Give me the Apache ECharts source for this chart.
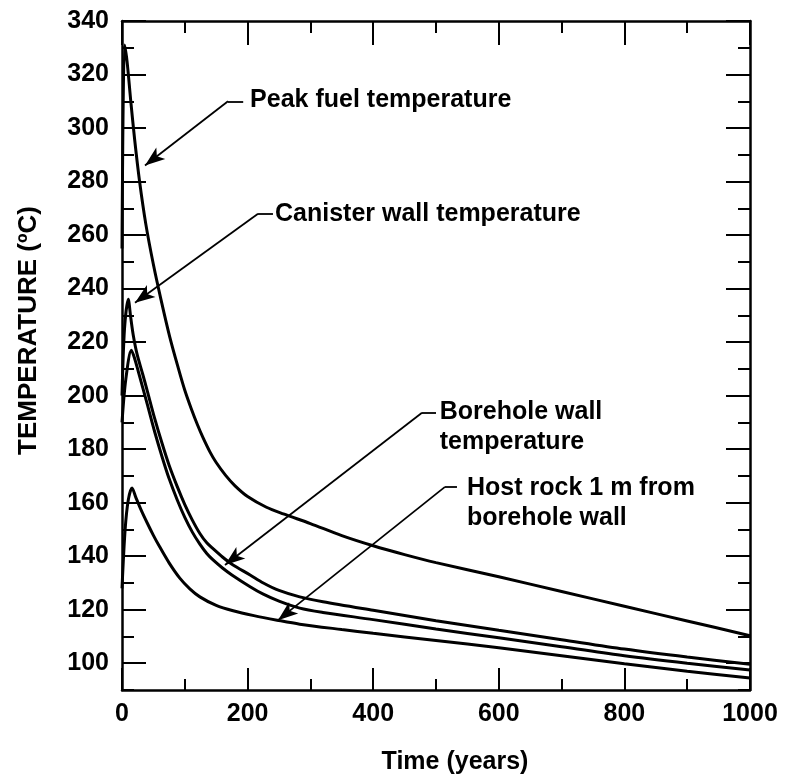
<!DOCTYPE html>
<html><head><meta charset="utf-8">
<script src="https://cdn.jsdelivr.net/npm/echarts@6/dist/echarts.min.js"></script>
<style>html,body{margin:0;padding:0;background:#fff}#c{width:785px;height:776px}</style>
</head><body><div id="c"></div>
<script>
// ---- data (time in years, temperature in °C) ----
const peakFuelT  = [0, 4, 8, 14, 20, 28, 38, 50, 62, 76, 90, 100, 110, 120, 129, 140, 150, 165, 180, 200, 230, 257, 300, 350, 400, 450, 500, 600, 700, 800, 900, 1000];
const peakFuelV  = [255, 331, 325, 310, 296, 280, 264, 249, 236, 222, 210, 202, 195.3, 189.2, 184.3, 179, 175, 170.2, 166.3, 162.3, 158.3, 155.8, 152.2, 147.7, 143.9, 140.6, 137.6, 132.3, 126.8, 121.3, 115.8, 110.3];
const canisterT  = [0, 4, 10, 14, 18, 24, 33, 40, 52, 64, 75, 88, 100, 112, 124, 135, 145, 160, 175, 204, 225, 250, 283, 320, 400, 500, 600, 700, 800, 900, 1000];
const canisterV  = [200, 225, 236, 229, 222.5, 215.5, 208, 202, 191.5, 182, 174, 166, 159.3, 153.5, 148.5, 145, 142.8, 139.7, 137, 133, 130, 127.2, 124.8, 123, 119.8, 115.9, 112.3, 108.8, 105.3, 102.3, 99.6];
const boreholeT  = [0, 6, 15, 20, 26, 33, 40, 52, 64, 75, 88, 100, 112, 124, 135, 145, 160, 175, 204, 225, 250, 283, 320, 400, 500, 600, 700, 800, 900, 1000];
const boreholeV  = [190, 206, 217, 214, 209, 203, 197, 186.5, 177, 169, 161, 154.5, 149, 144.5, 141, 138.6, 135.6, 133, 128.6, 125.8, 123.2, 120.6, 119, 116.3, 112.8, 109.5, 106.2, 102.8, 100, 97.5];
const hostRockT  = [0, 5, 10, 16, 22, 30, 40, 50, 60, 75, 92, 108, 124, 150, 177, 210, 247, 283, 350, 400, 500, 600, 700, 800, 900, 1000];
const hostRockV  = [128, 150, 161, 165.5, 162, 157.5, 152.5, 147.8, 143.5, 137.5, 131.8, 127.8, 124.8, 121.6, 119.6, 117.8, 116.1, 114.6, 112.6, 111.2, 108.5, 105.8, 102.8, 99.8, 97, 94.5];

const xTicks = [0, 200, 400, 600, 800, 1000];
const xMinorTicks = [100, 300, 500, 700, 900];
const yTicks = [100, 120, 140, 160, 180, 200, 220, 240, 260, 280, 300, 320, 340];
const yMinorTicks = [90, 110, 130, 150, 170, 190, 210, 230, 250, 270, 290, 310, 330];

// annotation texts and leader lines (data coordinates)
const noteTexts  = ['Peak fuel temperature', 'Canister wall temperature', 'Borehole wall\ntemperature', 'Host rock 1 m from\nborehole wall'];
const noteTextAt = [[204, 310.3], [243.6, 267.7], [506, 188.3], [549.4, 159.9]];
const noteElbow  = [[168.8, 310.0], [216.6, 268.0], [477.7, 193.6], [514.3, 165.9]];
const noteElbowEnd = [193, 240.4, 500, 533.4];
const noteTip    = [[36.6, 286.0], [20.7, 234.7], [164, 136.7], [248.4, 116.1]];

const FONT = '"Liberation Sans", Arial, Helvetica, sans-serif';
const zip = (a, b) => a.map((v, i) => [v, b[i]]);
const plain = v => String(v);

function xAxisDef(pos, ticks, len, labels, line) {
  return {
    type: 'value', position: pos, min: 0, max: 1000, gridIndex: 0,
    axisLine: { show: line, onZero: false, lineStyle: { color: '#000', width: 2.5 } },
    axisTick: { show: true, inside: true, length: len, customValues: ticks, lineStyle: { color: '#000', width: 2 } },
    axisLabel: labels ? { show: true, customValues: ticks, formatter: plain, margin: 12, color: '#000', fontSize: 25, fontWeight: 'bold', fontFamily: FONT } : { show: false },
    splitLine: { show: false }
  };
}
function yAxisDef(pos, ticks, len, labels, line) {
  return {
    type: 'value', position: pos, min: 90, max: 340, gridIndex: 0,
    axisLine: { show: line, onZero: false, lineStyle: { color: '#000', width: 2.5 } },
    axisTick: { show: true, inside: true, length: len, customValues: ticks, lineStyle: { color: '#000', width: 2 } },
    axisLabel: labels ? { show: true, customValues: ticks, formatter: plain, margin: 13, color: '#000', fontSize: 25, fontWeight: 'bold', fontFamily: FONT } : { show: false },
    splitLine: { show: false }
  };
}

const xAxes = [
  Object.assign(xAxisDef('bottom', xTicks, 22, true, true), {
    name: 'Time (years)', nameLocation: 'middle', nameGap: 60,
    nameTextStyle: { color: '#000', fontSize: 25, fontWeight: 'bold', fontFamily: FONT, padding: [0, 0, 0, 38] }
  }),
  xAxisDef('bottom', xMinorTicks, 11, false, false),
  xAxisDef('top', xTicks, 24, false, true),
  xAxisDef('top', xMinorTicks, 12, false, false)
];
const yAxes = [
  Object.assign(yAxisDef('left', yTicks, 24, true, true), {
    name: 'TEMPERATURE (ºC)', nameLocation: 'middle', nameGap: 80, nameRotate: 90,
    nameTextStyle: { color: '#000', fontSize: 26, fontWeight: 'bold', fontFamily: FONT, padding: [0, 0, 0, 50] }
  }),
  yAxisDef('left', yMinorTicks, 12, false, false),
  yAxisDef('right', yTicks, 24, false, true),
  yAxisDef('right', yMinorTicks, 12, false, false)
];

function curve(name, t, v) {
  return {
    name, type: 'line', xAxisIndex: 0, yAxisIndex: 0, data: zip(t, v),
    showSymbol: false, symbol: 'none', smooth: 0.3, clip: true,
    lineStyle: { color: '#000', width: 3 }
  };
}

const leaderLines = [];
noteTip.forEach((tip, i) => {
  leaderLines.push([{ coord: noteElbow[i], symbol: 'none' }, { coord: tip, symbol: 'arrow' }]);
  leaderLines.push([{ coord: noteElbow[i], symbol: 'none' }, { coord: [noteElbowEnd[i], noteElbow[i][1]], symbol: 'none' }]);
});

const chart = echarts.init(document.getElementById('c'), null, { renderer: 'canvas' });
chart.setOption({
  animation: false,
  backgroundColor: '#fff',
  grid: { left: 122, right: 35, top: 21, bottom: 86, containLabel: false, outerBoundsMode: 'none' },
  xAxis: xAxes,
  yAxis: yAxes,
  series: [
    curve('Peak fuel temperature', peakFuelT, peakFuelV),
    curve('Canister wall temperature', canisterT, canisterV),
    curve('Borehole wall temperature', boreholeT, boreholeV),
    curve('Host rock 1 m from borehole wall', hostRockT, hostRockV),
    {
      type: 'scatter', xAxisIndex: 0, yAxisIndex: 0, symbolSize: 0, silent: true,
      itemStyle: { opacity: 1, color: '#000' },
      data: noteTextAt.map((p, i) => [p[0], p[1], noteTexts[i]]),
      label: {
        show: true, position: 'right', distance: 0, formatter: p => p.data[2], opacity: 1,
        color: '#000', fontSize: 25, fontWeight: 'bold', fontFamily: FONT, lineHeight: 30, align: 'left',
        textBorderWidth: 0
      },
      markLine: {
        silent: true, symbol: ['none', 'none'], symbolSize: [11, 20],
        label: { show: false },
        lineStyle: { color: '#000', width: 1.8, type: 'solid', opacity: 1 },
        itemStyle: { color: '#000' },
        data: leaderLines
      }
    }
  ]
});
</script></body></html>
